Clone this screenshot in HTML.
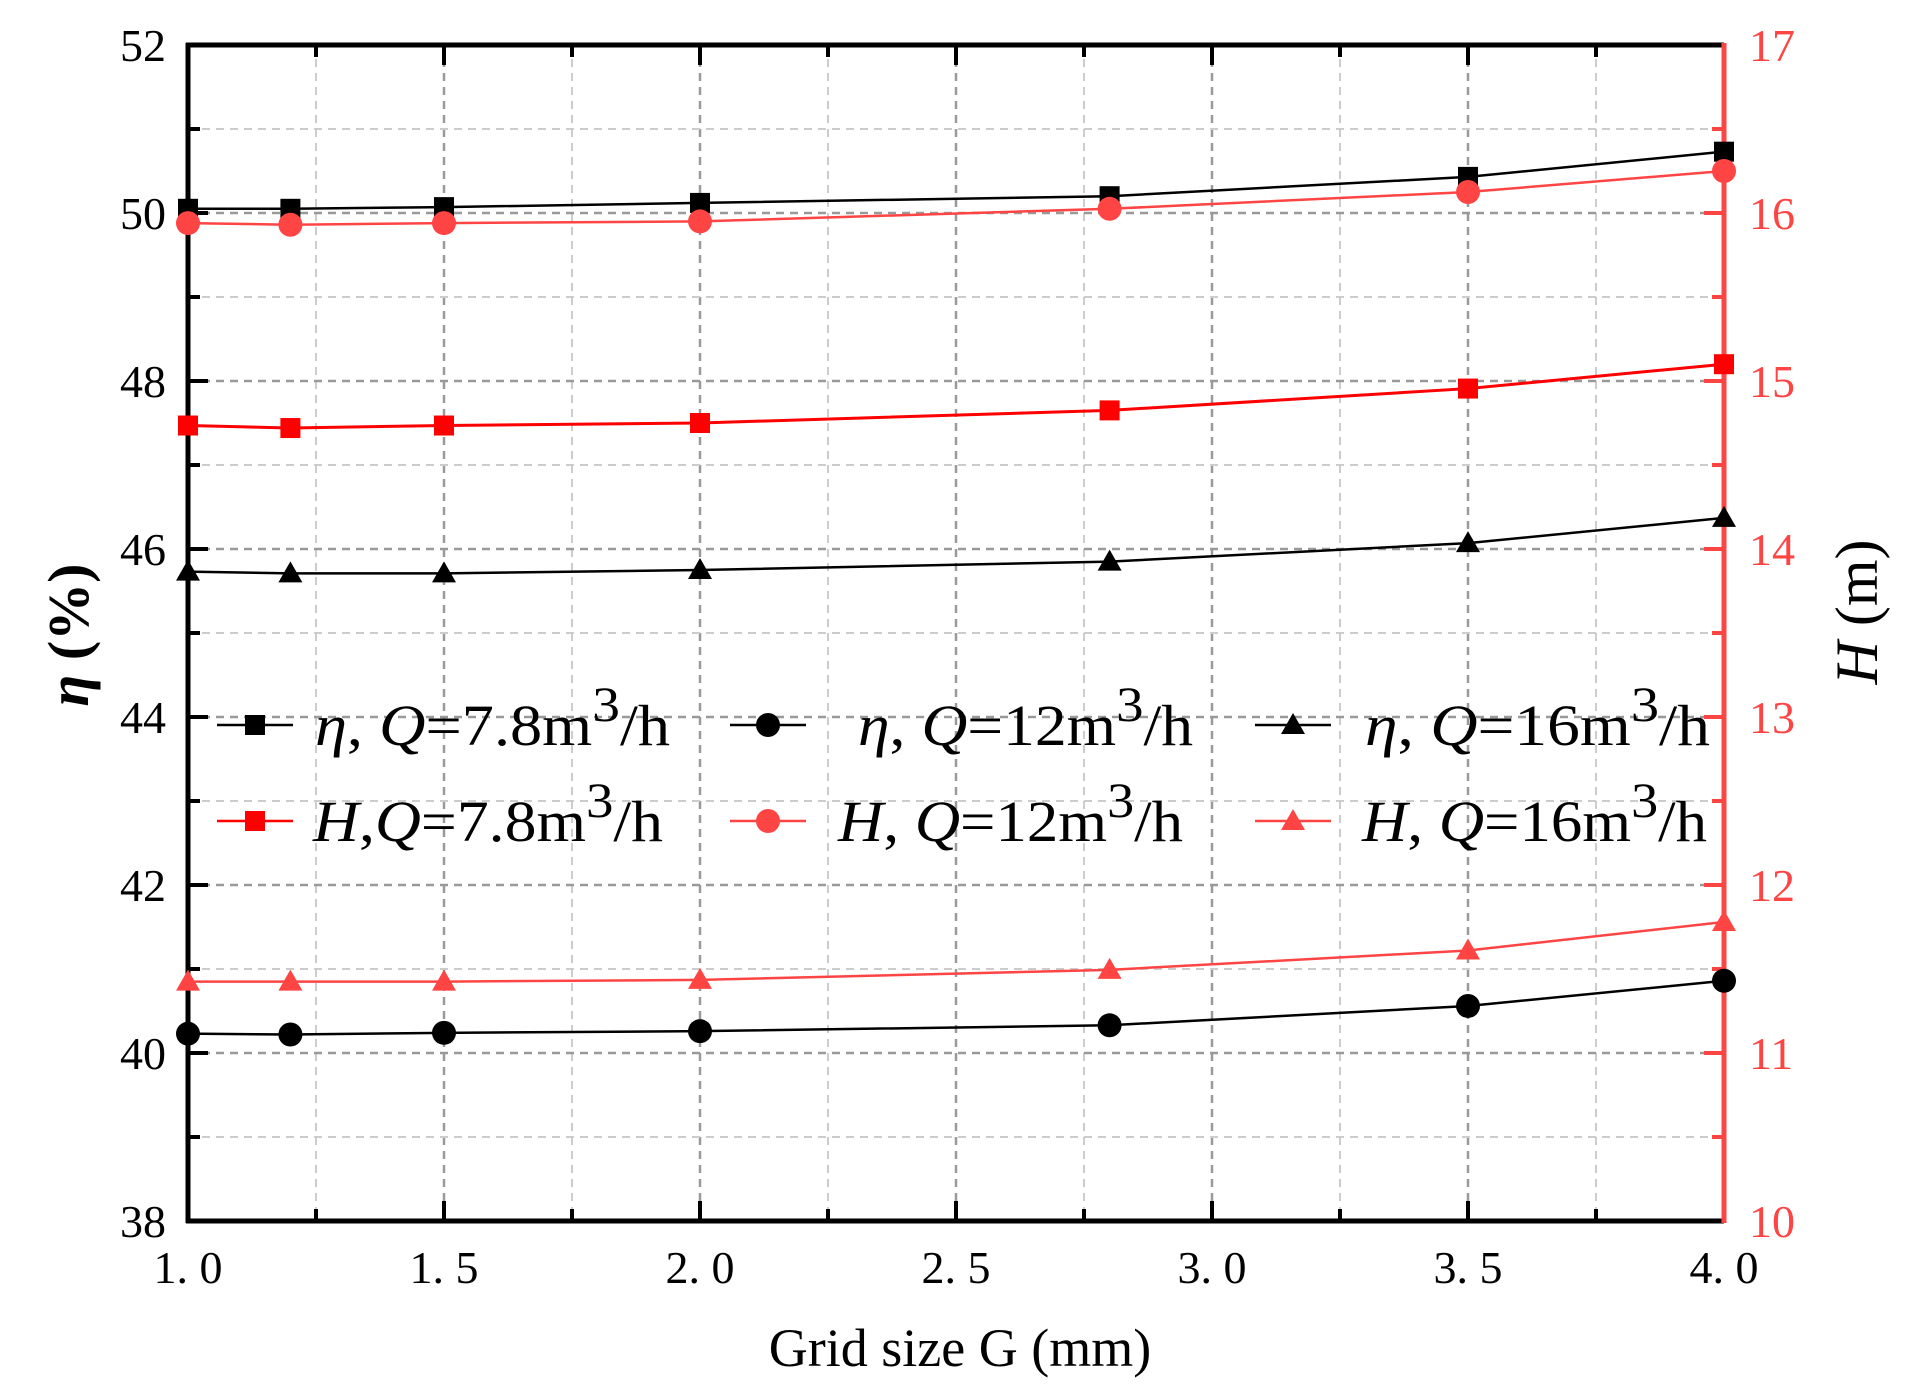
<!DOCTYPE html>
<html><head><meta charset="utf-8"><style>body{margin:0;background:#fff}svg{display:block}</style></head>
<body>
<svg id="s" width="1905" height="1391" xmlns="http://www.w3.org/2000/svg" font-family="Liberation Serif, serif"></svg>
<script>
const X=g=>188+(g-1)*512, Y=v=>45+(52-v)*84;
let h='';
for(let g=1.25;g<4;g+=0.25){const maj=Math.abs(g*2-Math.round(g*2))<1e-6;h+=`<line x1="${X(g)}" y1="45" x2="${X(g)}" y2="1221" stroke="${maj?'#999':'#ccc'}" stroke-width="${maj?2.5:2}" stroke-dasharray="8,6"/>`;}
for(let v=39;v<52;v++){const maj=v%2==0;h+=`<line x1="188" y1="${Y(v)}" x2="1724" y2="${Y(v)}" stroke="${maj?'#999':'#ccc'}" stroke-width="${maj?2.5:2}" stroke-dasharray="8,6"/>`;}
for(let g=1.25;g<4;g+=0.25){const maj=Math.abs(g*2-Math.round(g*2))<1e-6;const l=maj?20:12;h+=`<line x1="${X(g)}" y1="45" x2="${X(g)}" y2="${45+l}" stroke="#000" stroke-width="4"/><line x1="${X(g)}" y1="1221" x2="${X(g)}" y2="${1221-l}" stroke="#000" stroke-width="4"/>`;}
for(let v=39;v<52;v++){const l=v%2==0?20:12;h+=`<line x1="188" y1="${Y(v)}" x2="${188+l}" y2="${Y(v)}" stroke="#000" stroke-width="4"/>`;}
for(let k=10.5;k<17;k+=0.5){const yy=1221-(k-10)*168;const l=Number.isInteger(k)?20:12;h+=`<line x1="1724" y1="${yy}" x2="${1724-l}" y2="${yy}" stroke="#f44" stroke-width="4"/>`;}
h+=`<line x1="186" y1="45" x2="1724" y2="45" stroke="#000" stroke-width="5"/><line x1="186" y1="1221" x2="1724" y2="1221" stroke="#000" stroke-width="5"/><line x1="188" y1="43" x2="188" y2="1223" stroke="#000" stroke-width="5"/><line x1="1724" y1="43" x2="1724" y2="1223" stroke="#f44" stroke-width="5"/>`;
for(let v=38;v<=52;v+=2)h+=`<text x="166" y="${Y(v)+16}" font-size="46" text-anchor="end">${v}</text>`;
for(let k=10;k<=17;k++)h+=`<text x="1749" y="${1221-(k-10)*168+16}" font-size="46" fill="#f44">${k}</text>`;
['1. 0','1. 5','2. 0','2. 5','3. 0','3. 5','4. 0'].forEach((t,i)=>h+=`<text x="${X(1+i*0.5)}" y="1283" font-size="46" text-anchor="middle">${t}</text>`);
h+=`<text x="960" y="1366" font-size="54" text-anchor="middle">Grid size G (mm)</text>`;
h+=`<text transform="translate(88,635) rotate(-90)" font-size="58" font-weight="bold" text-anchor="middle"><tspan font-style="italic">η</tspan> (%)</text>`;
h+=`<text transform="translate(1877,612) rotate(-90)" font-size="60" text-anchor="middle"><tspan font-style="italic">H</tspan> (m)</text>`;
const xs=[1,1.2,1.5,2,2.8,3.5,4];
const S=[
['#000','sq',[50.05,50.05,50.07,50.12,50.2,50.43,50.73],2.5],
['#000','ci',[40.23,40.22,40.24,40.26,40.33,40.56,40.86],2.5],
['#000','tr',[45.73,45.71,45.71,45.75,45.85,46.07,46.37],2.5],
['#f00','sq',[47.47,47.44,47.47,47.5,47.65,47.91,48.2],3],
['#f44','ci',[49.88,49.86,49.88,49.9,50.05,50.25,50.5],2.5],
['#f44','tr',[40.85,40.85,40.85,40.87,40.99,41.22,41.56],2.5]];
function mk(t,x,y,c){if(t=='sq')return `<rect x="${x-10}" y="${y-10}" width="20" height="20" fill="${c}"/>`;if(t=='ci')return `<circle cx="${x}" cy="${y}" r="12" fill="${c}"/>`;return `<polygon points="${x},${y-12} ${x-12},${y+9} ${x+12},${y+9}" fill="${c}"/>`;}
S.forEach(s=>{h+=`<polyline fill="none" stroke="${s[0]}" stroke-width="${s[3]}" points="${xs.map((g,i)=>X(g)+','+Y(s[2][i])).join(' ')}"/>`;xs.forEach((g,i)=>h+=mk(s[1],X(g),Y(s[2][i]),s[0]));});
const sup='<tspan dy="-24" font-size="50">3</tspan><tspan dy="24">/h</tspan>';
const L=[[217,315,725,0,'<tspan font-style="italic">η</tspan>, <tspan font-style="italic">Q</tspan>=7.8m'+sup],
[730,858,725,1,'<tspan font-style="italic">η</tspan>, <tspan font-style="italic">Q</tspan>=12m'+sup],
[1255,1365,725,2,'<tspan font-style="italic">η</tspan>, <tspan font-style="italic">Q</tspan>=16m'+sup],
[217,313,821,3,'<tspan font-style="italic">H</tspan>,<tspan font-style="italic">Q</tspan>=7.8m'+sup],
[730,838,821,4,'<tspan font-style="italic">H</tspan>, <tspan font-style="italic">Q</tspan>=12m'+sup],
[1255,1362,821,5,'<tspan font-style="italic">H</tspan>, <tspan font-style="italic">Q</tspan>=16m'+sup]];
L.forEach(l=>{const s=S[l[3]];h+=`<line x1="${l[0]}" y1="${l[2]}" x2="${l[0]+76}" y2="${l[2]}" stroke="${s[0]}" stroke-width="2.5"/>`+mk(s[1],l[0]+38,l[2],s[0])+`<text x="${l[1]}" y="${l[2]+20}" font-size="58" textLength="${l[3]%3==0?(l[3]==0?355:350):(l[3]==1?335:345)}" lengthAdjust="spacingAndGlyphs">${l[4]}</text>`;});
document.getElementById('s').innerHTML=h;
</script>
</body></html>
